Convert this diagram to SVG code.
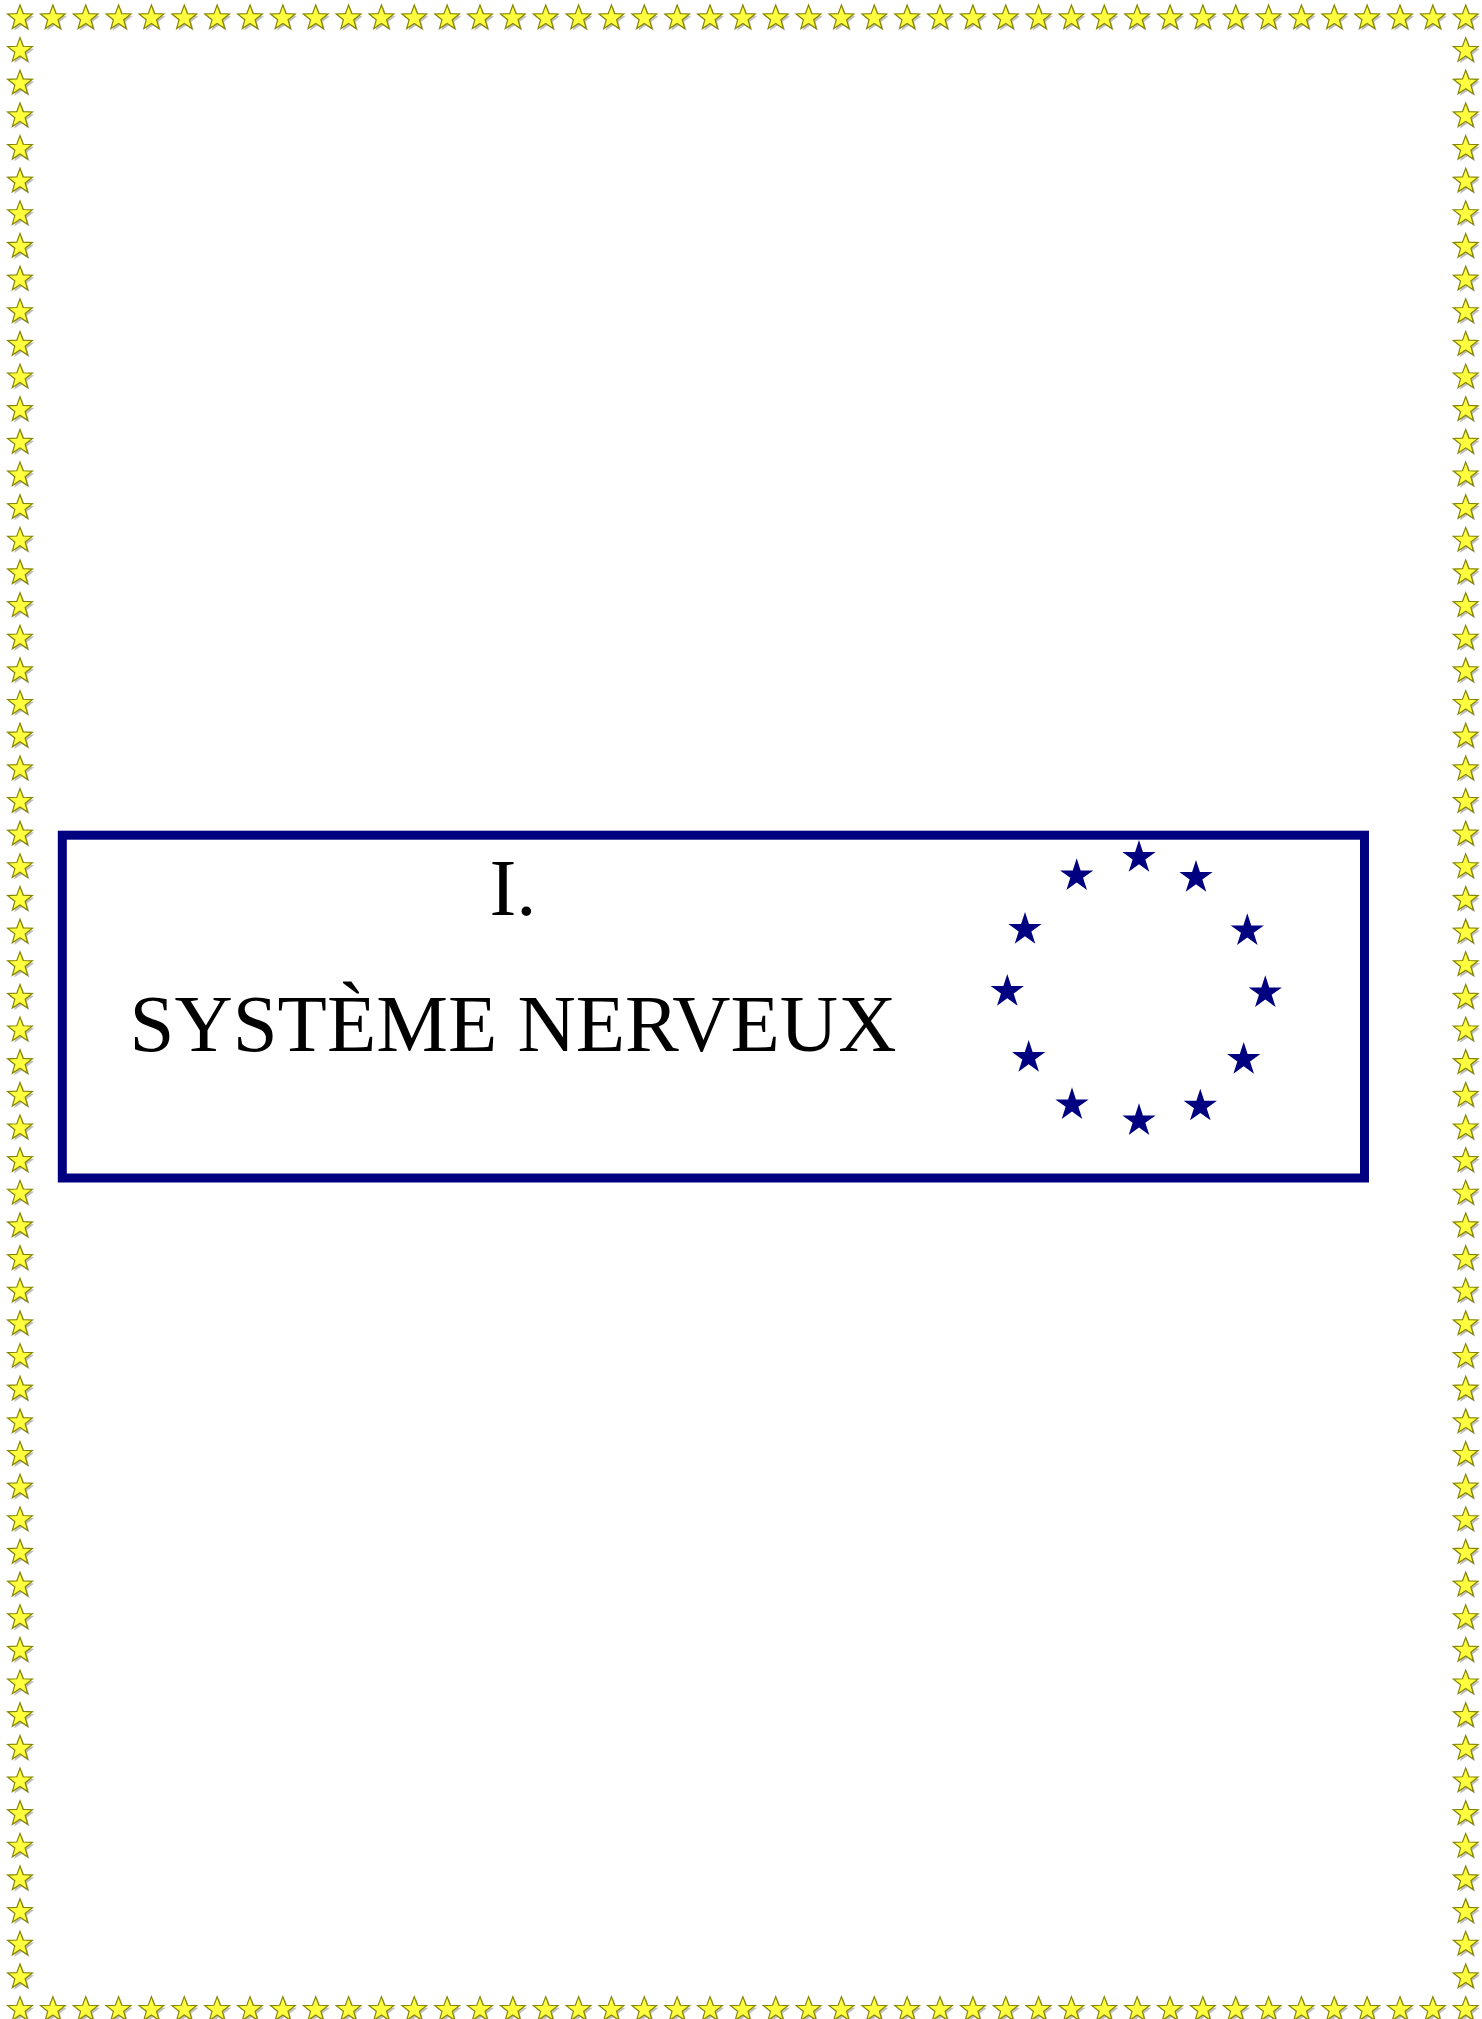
<svg xmlns="http://www.w3.org/2000/svg" xmlns:xlink="http://www.w3.org/1999/xlink" width="1482" height="2019" viewBox="0 0 1482 2019">
<style>
.bs{fill:#ffff40;stroke:#858500;stroke-width:1.2;stroke-linejoin:miter}
.sh{fill:#8a8a8a;opacity:0.55}
.eu{fill:#000080}
.frame{fill:none;stroke:#000080;stroke-width:9}
.t{font-family:"Liberation Serif","Times New Roman",serif;font-size:80.7px;fill:#000;text-anchor:middle}
</style>
<defs>
<path id="bstar" d="M0,-13 L3.17,-4.37 L12.36,-4.02 L5.14,1.67 L7.64,10.52 L0,5.4 L-7.64,10.52 L-5.14,1.67 L-12.36,-4.02 L-3.17,-4.37 Z"/>
<g id="s">
<use xlink:href="#bstar" href="#bstar" class="sh" transform="translate(1.8,2.2)"/>
<use xlink:href="#bstar" href="#bstar" class="bs"/>
</g>
<path id="eustar" d="M0,-17.5 L3.93,-5.41 L16.64,-5.41 L6.35,2.06 L10.29,14.16 L0,6.68 L-10.29,14.16 L-6.35,2.06 L-16.64,-5.41 L-3.93,-5.41 Z"/>
</defs>
<rect width="1482" height="2019" fill="#fff"/>
<g id="border">
<g id="row">
<use href="#s" x="20" y="18"/><use href="#s" x="52.86" y="18"/><use href="#s" x="85.71" y="18"/><use href="#s" x="118.57" y="18"/><use href="#s" x="151.43" y="18"/><use href="#s" x="184.29" y="18"/><use href="#s" x="217.14" y="18"/><use href="#s" x="250" y="18"/><use href="#s" x="282.86" y="18"/><use href="#s" x="315.71" y="18"/><use href="#s" x="348.57" y="18"/><use href="#s" x="381.43" y="18"/><use href="#s" x="414.29" y="18"/><use href="#s" x="447.14" y="18"/><use href="#s" x="480" y="18"/><use href="#s" x="512.86" y="18"/><use href="#s" x="545.71" y="18"/><use href="#s" x="578.57" y="18"/><use href="#s" x="611.43" y="18"/><use href="#s" x="644.29" y="18"/><use href="#s" x="677.14" y="18"/><use href="#s" x="710" y="18"/><use href="#s" x="742.86" y="18"/><use href="#s" x="775.71" y="18"/><use href="#s" x="808.57" y="18"/><use href="#s" x="841.43" y="18"/><use href="#s" x="874.29" y="18"/><use href="#s" x="907.14" y="18"/><use href="#s" x="940" y="18"/><use href="#s" x="972.86" y="18"/><use href="#s" x="1005.71" y="18"/><use href="#s" x="1038.57" y="18"/><use href="#s" x="1071.43" y="18"/><use href="#s" x="1104.29" y="18"/><use href="#s" x="1137.14" y="18"/><use href="#s" x="1170" y="18"/><use href="#s" x="1202.86" y="18"/><use href="#s" x="1235.71" y="18"/><use href="#s" x="1268.57" y="18"/><use href="#s" x="1301.43" y="18"/><use href="#s" x="1334.29" y="18"/><use href="#s" x="1367.14" y="18"/><use href="#s" x="1400" y="18"/><use href="#s" x="1432.86" y="18"/><use href="#s" x="1465.71" y="18"/>
</g>
<use href="#row" y="1991.65"/>
<g id="col">
<use href="#s" x="20" y="50.65"/><use href="#s" x="20" y="83.3"/><use href="#s" x="20" y="115.95"/><use href="#s" x="20" y="148.6"/><use href="#s" x="20" y="181.25"/><use href="#s" x="20" y="213.9"/><use href="#s" x="20" y="246.55"/><use href="#s" x="20" y="279.2"/><use href="#s" x="20" y="311.85"/><use href="#s" x="20" y="344.5"/><use href="#s" x="20" y="377.15"/><use href="#s" x="20" y="409.8"/><use href="#s" x="20" y="442.45"/><use href="#s" x="20" y="475.1"/><use href="#s" x="20" y="507.75"/><use href="#s" x="20" y="540.4"/><use href="#s" x="20" y="573.05"/><use href="#s" x="20" y="605.7"/><use href="#s" x="20" y="638.35"/><use href="#s" x="20" y="671"/><use href="#s" x="20" y="703.65"/><use href="#s" x="20" y="736.3"/><use href="#s" x="20" y="768.95"/><use href="#s" x="20" y="801.6"/><use href="#s" x="20" y="834.25"/><use href="#s" x="20" y="866.9"/><use href="#s" x="20" y="899.55"/><use href="#s" x="20" y="932.2"/><use href="#s" x="20" y="964.85"/><use href="#s" x="20" y="997.5"/><use href="#s" x="20" y="1030.15"/><use href="#s" x="20" y="1062.8"/><use href="#s" x="20" y="1095.45"/><use href="#s" x="20" y="1128.1"/><use href="#s" x="20" y="1160.75"/><use href="#s" x="20" y="1193.4"/><use href="#s" x="20" y="1226.05"/><use href="#s" x="20" y="1258.7"/><use href="#s" x="20" y="1291.35"/><use href="#s" x="20" y="1324"/><use href="#s" x="20" y="1356.65"/><use href="#s" x="20" y="1389.3"/><use href="#s" x="20" y="1421.95"/><use href="#s" x="20" y="1454.6"/><use href="#s" x="20" y="1487.25"/><use href="#s" x="20" y="1519.9"/><use href="#s" x="20" y="1552.55"/><use href="#s" x="20" y="1585.2"/><use href="#s" x="20" y="1617.85"/><use href="#s" x="20" y="1650.5"/><use href="#s" x="20" y="1683.15"/><use href="#s" x="20" y="1715.8"/><use href="#s" x="20" y="1748.45"/><use href="#s" x="20" y="1781.1"/><use href="#s" x="20" y="1813.75"/><use href="#s" x="20" y="1846.4"/><use href="#s" x="20" y="1879.05"/><use href="#s" x="20" y="1911.7"/><use href="#s" x="20" y="1944.35"/><use href="#s" x="20" y="1977"/>
</g>
<use href="#col" x="1445.71"/>
</g>
<g id="title-box">
<rect class="frame" x="62.3" y="835.2" width="1302.2" height="342.8"/>
<text class="t" x="513" y="915">I.</text>
<text class="t" x="513" y="1051">SYSTÈME NERVEUX</text>
</g>
<g id="eu-stars">
<use href="#eustar" class="eu" x="1139" y="857.5"/>
<use href="#eustar" class="eu" x="1076.7" y="875.8"/>
<use href="#eustar" class="eu" x="1196" y="877.5"/>
<use href="#eustar" class="eu" x="1025" y="929.5"/>
<use href="#eustar" class="eu" x="1247.3" y="930.8"/>
<use href="#eustar" class="eu" x="1007.3" y="991.5"/>
<use href="#eustar" class="eu" x="1265.3" y="992.8"/>
<use href="#eustar" class="eu" x="1028.7" y="1057.5"/>
<use href="#eustar" class="eu" x="1243.7" y="1059.5"/>
<use href="#eustar" class="eu" x="1072" y="1104.8"/>
<use href="#eustar" class="eu" x="1200.3" y="1106.2"/>
<use href="#eustar" class="eu" x="1139" y="1120.8"/>
</g>
</svg>
